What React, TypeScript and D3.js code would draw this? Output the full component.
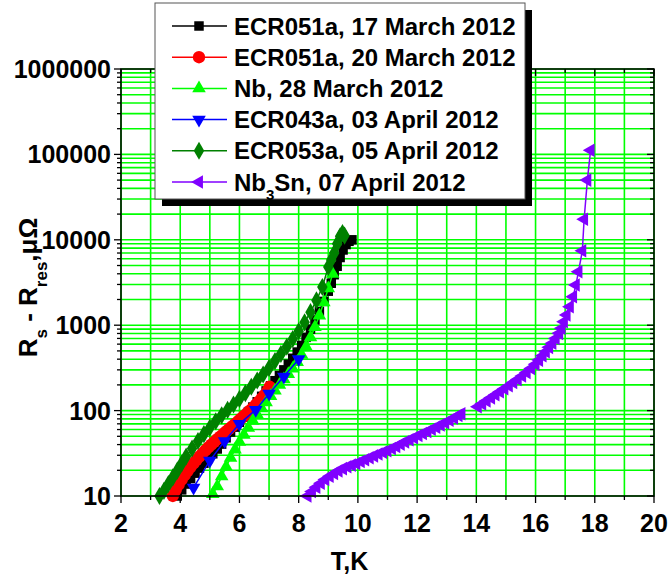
import React from "react";
import * as d3 from "d3";

const W = 671;
const H = 576;
const PLOT = { left: 121, right: 654, top: 69, bottom: 496 };

const xTickValues = [2, 4, 6, 8, 10, 12, 14, 16, 18, 20];
const yTickValues = [10, 100, 1000, 10000, 100000, 1000000];

// ECR051a, 17 March 2012
const ecr051aMar17T = [3.9, 4.05, 4.2, 4.35, 4.5, 4.65, 4.8, 4.95, 5.1, 5.25, 5.4, 5.55, 5.7, 5.85, 6.0, 6.15, 6.3, 6.45, 6.6, 6.75, 6.9, 7.05, 7.2, 7.35, 7.5, 7.65, 7.8, 7.95, 8.1, 8.25, 8.4, 8.55, 8.7, 8.85, 9.0, 9.1, 9.2, 9.3, 9.4, 9.5, 9.6, 9.7, 9.8];
const ecr051aMar17R = [10, 11.8, 13.8, 16, 18.5, 21.2, 24.2, 27.5, 31.2, 35.5, 40.5, 48, 56, 64, 73, 84, 96, 110, 127, 147, 170, 195, 224, 258, 300, 350, 410, 485, 580, 720, 900, 1150, 1450, 1900, 2500, 3100, 3900, 4900, 6200, 7600, 8800, 9600, 10000];

// ECR051a, 20 March 2012
const ecr051aMar20T = [3.75, 3.85, 3.95, 4.05, 4.15, 4.25, 4.35, 4.45, 4.55, 4.65, 4.75, 4.85, 4.95, 5.05, 5.15, 5.25, 5.35, 5.45, 5.55, 5.65, 5.75, 5.85, 5.95, 6.05, 6.15, 6.25, 6.35, 6.45, 6.55, 6.65, 6.75, 6.85, 6.95, 7.02];
const ecr051aMar20R = [10, 11.8, 13.6, 15.5, 17.5, 19.6, 21.8, 24.1, 26.5, 29, 31.6, 34.3, 37.1, 40, 43, 46.2, 49.6, 53.2, 57, 61, 65.3, 70, 75, 80.5, 86.5, 93, 100, 108, 117, 127, 139, 153, 170, 190];

// Nb, 28 March 2012
const nbMar28T = [5.1, 5.25, 5.4, 5.55, 5.7, 5.85, 6.0, 6.15, 6.3, 6.45, 6.6, 6.75, 6.9, 7.05, 7.2, 7.35, 7.5, 7.65, 7.8, 7.95, 8.1, 8.25, 8.4, 8.55, 8.7, 8.85, 9.0, 9.15];
const nbMar28R = [10.5, 13, 17, 22, 28, 35, 43, 52, 63, 76, 90, 106, 125, 148, 172, 200, 232, 268, 310, 370, 450, 560, 720, 950, 1300, 1850, 2700, 4000];

// ECR043a, 03 April 2012
const ecr043aApr03T = [4.45, 5.0, 5.5, 6.0, 6.55, 7.0, 7.5, 8.0];
const ecr043aApr03R = [12.5, 26, 44, 70, 102, 158, 250, 400];

// ECR053a, 05 April 2012
const ecr053aApr05T = [3.3, 3.45, 3.6, 3.75, 3.9, 4.05, 4.2, 4.4, 4.6, 4.8, 5.0, 5.2, 5.4, 5.6, 5.8, 6.0, 6.2, 6.4, 6.6, 6.8, 7.0, 7.2, 7.4, 7.6, 7.8, 8.0, 8.2, 8.4, 8.6, 8.8, 9.0, 9.1, 9.2, 9.3, 9.4, 9.48, 9.55];
const ecr053aApr05R = [10, 11.5, 13.8, 16.5, 19.8, 24, 29, 36, 44, 53, 63, 75, 88, 102, 118, 137, 160, 190, 225, 265, 315, 380, 460, 560, 690, 850, 1080, 1420, 1950, 2800, 4800, 5800, 7000, 9000, 11000, 12000, 11200];

// Nb3Sn, 07 April 2012 (two sweeps)
const nb3snApr07LowT = [8.3, 8.45, 8.6, 8.75, 8.9, 9.05, 9.2, 9.35, 9.5, 9.65, 9.8, 9.95, 10.1, 10.25, 10.4, 10.55, 10.7, 10.85, 11.0, 11.15, 11.3, 11.45, 11.6, 11.75, 11.9, 12.05, 12.2, 12.35, 12.5, 12.65, 12.8, 12.95, 13.1, 13.25, 13.4, 13.5];
const nb3snApr07LowR = [10, 11.3, 12.7, 14.1, 15.6, 17.0, 18.4, 19.7, 20.9, 22.0, 23.0, 24.0, 25.3, 26.6, 28, 29.5, 31, 32.5, 34, 36, 38, 40.5, 43, 45.5, 48, 51, 54, 57, 60.5, 64, 68, 72, 77, 82, 88, 92];
const nb3snApr07HighT = [14.05, 14.2, 14.35, 14.5, 14.65, 14.8, 14.95, 15.1, 15.25, 15.4, 15.55, 15.7, 15.85, 16.0, 16.12, 16.24, 16.35, 16.46, 16.57, 16.68, 16.8, 16.88, 16.96, 17.05, 17.16, 17.27, 17.36, 17.45, 17.58, 17.64, 17.75, 17.86];
const nb3snApr07HighR = [111, 120, 130, 141, 153, 166, 180, 196, 213, 232, 254, 280, 312, 350, 390, 440, 490, 550, 614, 700, 803, 920, 1100, 1320, 1650, 2160, 2950, 4230, 7450, 17400, 50000, 112000];

type Marker = "square" | "circle" | "up" | "down" | "diamond" | "left";

interface Series {
  label: React.ReactNode;
  color: string;
  marker: Marker;
  segments: { t: number[]; r: number[] }[];
}

const series: Series[] = [
  { label: "ECR051a, 17 March 2012", color: "#000000", marker: "square", segments: [{ t: ecr051aMar17T, r: ecr051aMar17R }] },
  { label: "ECR051a, 20 March 2012", color: "#ff0000", marker: "circle", segments: [{ t: ecr051aMar20T, r: ecr051aMar20R }] },
  { label: "Nb, 28 March 2012", color: "#00ff00", marker: "up", segments: [{ t: nbMar28T, r: nbMar28R }] },
  { label: "ECR043a, 03 April 2012", color: "#0000ff", marker: "down", segments: [{ t: ecr043aApr03T, r: ecr043aApr03R }] },
  { label: "ECR053a, 05 April 2012", color: "#008000", marker: "diamond", segments: [{ t: ecr053aApr05T, r: ecr053aApr05R }] },
  {
    label: (
      <>
        Nb<tspan baselineShift="sub" fontSize={15}>3</tspan>Sn, 07 April 2012
      </>
    ),
    color: "#8000ff",
    marker: "left",
    segments: [
      { t: nb3snApr07LowT, r: nb3snApr07LowR },
      { t: nb3snApr07HighT, r: nb3snApr07HighR },
    ],
  },
];

const x = d3.scaleLinear().domain([2, 20]).range([PLOT.left, PLOT.right]);
const y = d3.scaleLog().domain([10, 1000000]).range([PLOT.bottom, PLOT.top]);

const symbolPath = (m: Marker): { d: string; rotate: number } => {
  switch (m) {
    case "square":
      return { d: d3.symbol(d3.symbolSquare, 90)() as string, rotate: 0 };
    case "circle":
      return { d: d3.symbol(d3.symbolCircle, 120)() as string, rotate: 0 };
    case "up":
      return { d: d3.symbol(d3.symbolTriangle, 80)() as string, rotate: 0 };
    case "down":
      return { d: d3.symbol(d3.symbolTriangle, 80)() as string, rotate: 180 };
    case "left":
      return { d: d3.symbol(d3.symbolTriangle, 80)() as string, rotate: -90 };
    case "diamond":
      return { d: d3.symbol(d3.symbolDiamond, 95)() as string, rotate: 0 };
  }
};

const FONT = "'Liberation Sans', Arial, Helvetica, sans-serif";
const GRID = "#00ff00";

export default function App() {
  const minorX = d3.range(2, 21, 1);
  const minorY: number[] = [];
  for (let e = 1; e < 6; e++) {
    for (let k = 1; k <= 9; k++) minorY.push(k * Math.pow(10, e));
  }
  minorY.push(1000000);

  const line = d3
    .line<[number, number]>()
    .x((d) => x(d[0]))
    .y((d) => y(d[1]));

  const legend = { x: 155, y: 3, w: 370, h: 196, shadow: 7, rowY0: 23, rowDy: 31.2 };

  return (
    <svg
      width={W}
      height={H}
      viewBox={`0 0 ${W} ${H}`}
      style={{ position: "absolute", left: 0, top: 0, background: "#fff" }}
      fontFamily={FONT}
    >
      <rect x={0} y={0} width={W} height={H} fill="#fff" />

      {/* grid */}
      <g stroke={GRID} strokeWidth={1.6}>
        {minorX.map((v) => (
          <line key={`gx${v}`} x1={x(v)} x2={x(v)} y1={PLOT.top} y2={PLOT.bottom} />
        ))}
        {minorY.map((v) => (
          <line key={`gy${v}`} x1={PLOT.left} x2={PLOT.right} y1={y(v)} y2={y(v)} />
        ))}
      </g>

      {/* data */}
      {series.map((s, i) => {
        const sym = symbolPath(s.marker);
        return (
          <g key={`s${i}`}>
            {s.segments.map((seg, j) => {
              const pts = seg.t.map((t, k) => [t, seg.r[k]] as [number, number]);
              return (
                <g key={`seg${j}`}>
                  <path d={line(pts) as string} fill="none" stroke={s.color} strokeWidth={1.5} />
                  {pts.map((p, k) => (
                    <path
                      key={k}
                      d={sym.d}
                      fill={s.color}
                      transform={`translate(${x(p[0])},${y(p[1])}) rotate(${sym.rotate})`}
                    />
                  ))}
                </g>
              );
            })}
          </g>
        );
      })}

      {/* frame */}
      <rect
        x={PLOT.left}
        y={PLOT.top}
        width={PLOT.right - PLOT.left}
        height={PLOT.bottom - PLOT.top}
        fill="none"
        stroke="#000"
        strokeWidth={1.5}
      />

      {/* ticks: bottom/left outward, top/right inward */}
      <g stroke="#000" strokeWidth={1.3}>
        {minorX.map((v) => {
          const len = v % 2 === 0 ? 7 : 4;
          return (
            <g key={`tx${v}`}>
              <line x1={x(v)} x2={x(v)} y1={PLOT.bottom} y2={PLOT.bottom + len} />
              <line x1={x(v)} x2={x(v)} y1={PLOT.top} y2={PLOT.top + len} />
            </g>
          );
        })}
        {minorY.map((v) => {
          const major = yTickValues.includes(v);
          const len = major ? 7 : 4;
          return (
            <g key={`ty${v}`}>
              <line x1={PLOT.left - len} x2={PLOT.left} y1={y(v)} y2={y(v)} />
              <line x1={PLOT.right - len} x2={PLOT.right} y1={y(v)} y2={y(v)} />
            </g>
          );
        })}
      </g>

      {/* tick labels */}
      <g fontSize={25} fontWeight="bold" fill="#000">
        {xTickValues.map((v) => (
          <text key={`lx${v}`} x={x(v)} y={PLOT.bottom + 36} textAnchor="middle">
            {v}
          </text>
        ))}
        {yTickValues.map((v) => (
          <text key={`ly${v}`} x={PLOT.left - 10} y={y(v)} dy="0.36em" textAnchor="end">
            {v}
          </text>
        ))}
      </g>

      {/* axis titles */}
      <text x={(PLOT.left + PLOT.right) / 2 - 38} y={570} textAnchor="middle" fontSize={25} fontWeight="bold">
        T,K
      </text>
      <text
        transform={`translate(37,${(PLOT.top + PLOT.bottom) / 2 + 5}) rotate(-90)`}
        textAnchor="middle"
        fontSize={26}
        fontWeight="bold"
      >
        R<tspan baselineShift="sub" fontSize={17}>s</tspan>
        <tspan> - R</tspan>
        <tspan baselineShift="sub" fontSize={17}>res</tspan>
        <tspan>,μΩ</tspan>
      </text>

      {/* legend */}
      <rect
        x={legend.x + legend.shadow}
        y={legend.y + legend.shadow}
        width={legend.w}
        height={legend.h}
        fill="#000"
      />
      <rect x={legend.x} y={legend.y} width={legend.w} height={legend.h} fill="#fff" stroke="#555" strokeWidth={1} />
      {series.map((s, i) => {
        const cy = legend.y + legend.rowY0 + i * legend.rowDy;
        const sym = symbolPath(s.marker);
        return (
          <g key={`lg${i}`}>
            <line x1={172} x2={227} y1={cy} y2={cy} stroke={s.color} strokeWidth={1.5} />
            <path d={sym.d} fill={s.color} transform={`translate(199,${cy}) rotate(${sym.rotate})`} />
            <text x={234} y={cy} dy="0.36em" fontSize={24} fontWeight="bold">
              {s.label}
            </text>
          </g>
        );
      })}
    </svg>
  );
}
